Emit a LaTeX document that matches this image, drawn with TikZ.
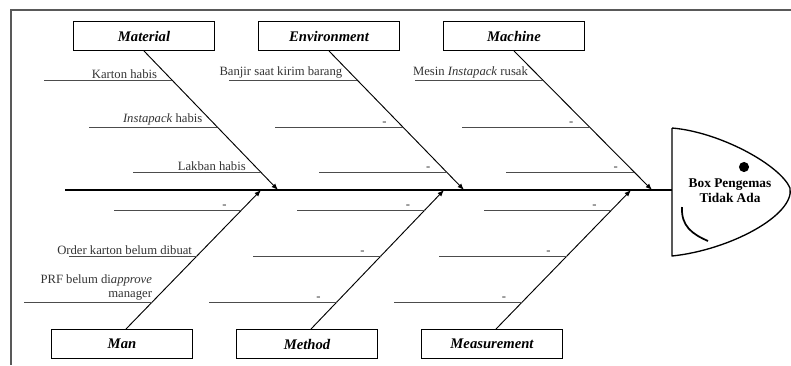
\documentclass[tikz,border=0pt]{standalone}
\usepackage{fontspec}
\setmainfont{Liberation Serif}
\usetikzlibrary{positioning}
\tikzset{
    katbox/.style={draw,line width=1pt,minimum width=105.5pt,minimum height=21.5pt,inner sep=0pt,font=\fontsize{11}{13}\selectfont\bfseries\itshape},
    tulang/.style={line width=.7pt},
    ranting/.style={line width=.6pt,black!70},
    sebab/.style={font=\fontsize{9.5}{10.5}\selectfont,inner sep=1pt,anchor=south east,align=right,text=black!80}
}
\begin{document}
\begin{tikzpicture}[x=.75pt,y=-.75pt,>=latex]
    \useasboundingbox (0,0) rectangle (791,365);
    \draw[black!65,line width=.8pt] (791,10)--(11,10)--(11,365);
    % tulang utama dan kepala
    \coordinate (ekor) at (65,190);
    \coordinate (kepala) at (672,190);
    \draw[line width=1.6pt] (ekor)--(kepala);
    \draw[line width=1pt,line join=round] (672,128)--(672,256) .. controls (730,250) and (795,215) .. (790,188) .. controls (780,165) and (720,132) .. (672,128);
    \node[font=\fontsize{10}{11.5}\selectfont\bfseries,align=center] (masalah) at (730,191) {Box Pengemas\\Tidak Ada};
    \fill (744,167) circle (3.8pt);
    \draw[line width=1.3pt] (682,207) .. controls (681,226) and (692,234) .. (708,241);
    % kategori atas
    \foreach \nama/\bx/\ex/\lbl in {mat/144/278/Material,env/329/464/Environment,mac/514/652/Machine}
    {
        \node[katbox] (\nama) at (\bx,36) {\lbl};
        \coordinate (\nama-s) at (\nama.south);
        \coordinate (\nama-e) at (\ex,190);
        \draw[tulang,->] (\nama-s)--(\nama-e);
    }
    % kategori bawah
    \foreach \nama/\bx/\ex/\lbl in {man/122/261/Man,met/307/444/Method,mea/492/631/Measurement}
    {
        \node[katbox] (\nama) at (\bx,344) {\lbl};
        \coordinate (\nama-s) at ([xshift=3pt]\nama.north);
        \coordinate (\nama-e) at (\ex,190);
        \draw[tulang,->] (\nama-s)--(\nama-e);
    }
    % sebab-sebab
    \foreach \nama/\y/\geser/\teks in {mat/80/-10/Karton habis,mat/127/-10/\textit{Instapack} habis,mat/172/-10/Lakban habis,
        env/80/-10/Banjir saat kirim barang,env/127/-11/-,env/172/-11/-,
        mac/80/-10/Mesin \textit{Instapack} rusak,mac/127/-11/-,mac/172/-11/-,
        man/210/-10/-,man/256/-2.5/Order karton belum dibuat,man/302/1/PRF belum di\textit{approve}\\manager,
        met/210/-10/-,met/256/-11/-,met/302/-11/-,
        mea/210/-10/-,mea/256/-11/-,mea/302/-11/-}
    {
        \coordinate (\nama-\y) at (intersection of \nama-s--\nama-e and 0,\y--10,\y);
        \draw[ranting] (\nama-\y)--++(-128,0) coordinate (\nama-\y-a);
        \node[sebab,xshift=\geser pt] (\nama-\y-t) at (\nama-\y) {\teks};
    }
\end{tikzpicture}
\end{document}
